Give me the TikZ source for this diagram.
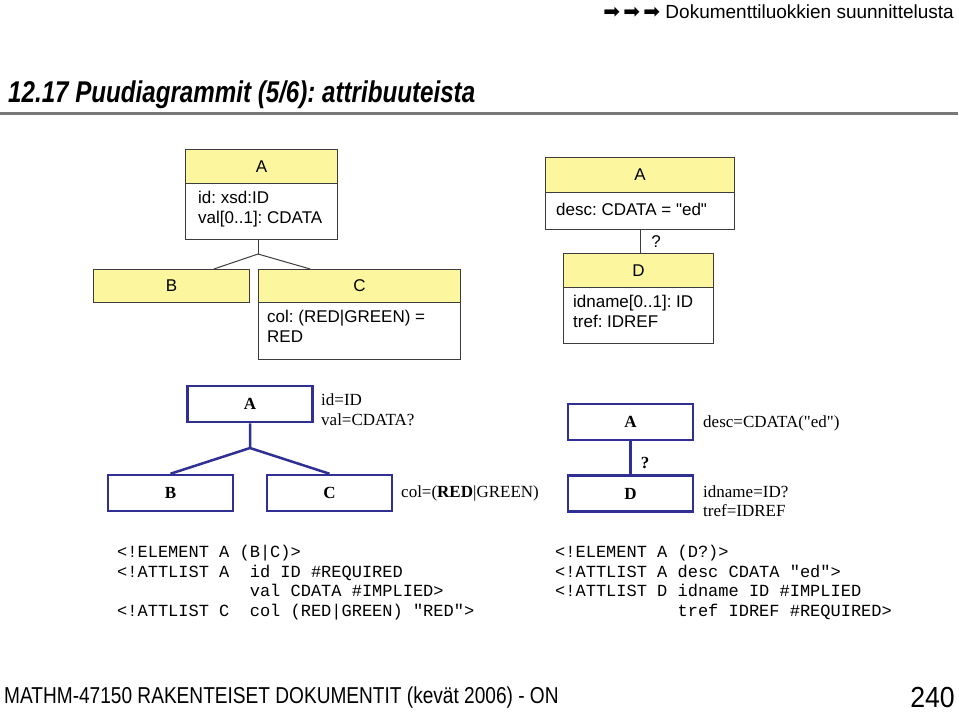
\documentclass[tikz,border=0pt]{standalone}
\usepackage{fontspec}
\usepackage{graphicx}
\setmainfont{Liberation Sans}
\newfontfamily\tnr{Liberation Serif}
\newfontfamily\cour{Liberation Mono}
\newfontfamily\djv{DejaVu Sans}
\usetikzlibrary{calc}
\definecolor{umly}{RGB}{252,247,158}
\definecolor{umll}{RGB}{60,60,60}
\definecolor{navy}{RGB}{48,48,148}
\definecolor{rulegray}{RGB}{120,120,120}
\frenchspacing
\begin{document}
\begin{tikzpicture}[x=1pt,y=-1pt,
  hd/.style={draw=umll,line width=1pt,fill=umly,anchor=north west,inner sep=0pt,font=\fontsize{17}{20}\selectfont},
  bd/.style={draw=umll,line width=1pt,fill=white,anchor=north west,inner sep=0pt},
  attxt/.style={anchor=base west,inner sep=0pt,font=\fontsize{17}{20}\selectfont},
  tb/.style={draw=navy,line width=2.5pt,fill=white,minimum width=125pt,minimum height=36pt,inner sep=0pt,font=\tnr\bfseries\fontsize{17}{20}\selectfont},
  tt/.style={anchor=base west,inner sep=0pt,font=\tnr\fontsize{17}{20}\selectfont},
  code/.style={anchor=base west,inner sep=0pt,font=\cour\fontsize{17}{20}\selectfont},
  ucon/.style={draw=umll,line width=1pt},
  tcon/.style={draw=navy,line width=2.5pt,line join=round}
]
\fill[white] (0,0) rectangle (959,713);
\path[use as bounding box] (0,0) rectangle (959,713);

% header
\node[anchor=base east,inner sep=0pt,font=\fontsize{19}{22}\selectfont] (hdr) at (954,18)
  {{\djv\fontsize{20}{22}\selectfont ➡\,➡\,➡}\ Dokumenttiluokkien suunnittelusta};

% title
\node[anchor=base west,inner sep=0pt,font=\fontsize{30}{34}\selectfont\bfseries\itshape] (title) at (8,102)
  {\scalebox{0.805}[1]{12.17 Puudiagrammit (5/6): attribuuteista}};
\coordinate (rl) at (0,113);
\coordinate (rr) at (958,113);
\draw[rulegray,line width=3pt] (rl) -- (rr);

% ---- top left UML tree
\node[hd,minimum width=152pt,minimum height=34pt] (Ah) at (185,149) {A};
\node[bd,minimum width=152pt,minimum height=56pt] (Ab) at (185,183) {};
\node[attxt] (Aa1) at (198,203) {id: xsd:ID};
\node[attxt] (Aa2) at (198,223) {val[0..1]: CDATA};

\node[hd,minimum width=156pt,minimum height=33pt] (Bh) at (93,269) {B};

\node[hd,minimum width=202pt,minimum height=33pt] (Ch) at (258,269) {C};
\node[bd,minimum width=202pt,minimum height=57pt] (Cb) at (258,302) {};
\node[attxt] (Ca1) at (267,322) {col: (RED|GREEN) =};
\node[attxt] (Ca2) at (267,342) {RED};

\coordinate (j1) at (258,254);
\draw[ucon] (Ab.south -| j1) -- (j1);
\draw[ucon] (j1) -- ($(Bh.north west)!0.77!(Bh.north east)$);
\draw[ucon] (j1) -- ($(Ch.north west)!0.257!(Ch.north east)$);

% ---- top right UML tree
\node[hd,minimum width=189pt,minimum height=35pt] (Rh) at (545,157) {A};
\node[bd,minimum width=189pt,minimum height=37pt] (Rb) at (545,192) {};
\node[attxt] (Ra1) at (556,215) {desc: CDATA = \textquotedbl ed\textquotedbl};

\node[hd,minimum width=150pt,minimum height=34pt] (Dh) at (563,253) {D};
\node[bd,minimum width=150pt,minimum height=56pt] (Db) at (563,287) {};
\node[attxt] (Da1) at (573,307) {idname[0..1]: ID};
\node[attxt] (Da2) at (573,327) {tref: IDREF};

\draw[ucon] (Rb.south) -- (Rb.south |- Dh.north);
\node[inner sep=0pt,font=\fontsize{17}{20}\selectfont] (q1) at (656,242) {?};

% ---- bottom left tree
\node[tb] (A2) at (250,404) {A};
\node[tb] (B2) at (170.5,493) {B};
\node[tb] (C2) at (329.5,493) {C};
\node[tt] (A2t1) at (321,405) {id=ID};
\node[tt] (A2t2) at (321,425) {val=CDATA?};
\node[tt] (C2t) at (401,497) {col=(\textbf{RED}|GREEN)};
\coordinate (j2) at (250,448);
\draw[tcon] (A2.south) -- (j2) -- (B2.north);
\draw[tcon] (j2) -- (C2.north);

% ---- bottom right tree
\node[tb] (A3) at (630.5,422) {A};
\node[tb] (D3) at (630.5,493.5) {D};
\node[tt] (A3t) at (703,427) {desc=CDATA("ed")};
\node[tt] (D3t1) at (703,497) {idname=ID?};
\node[tt] (D3t2) at (703,516) {tref=IDREF};
\draw[tcon] (A3.south) -- (D3.north);
\node[inner sep=0pt,font=\tnr\bfseries\fontsize{17}{20}\selectfont] (q2) at (645,463) {?};

% ---- code left
\node[code] (cl1) at (117,557) {<!ELEMENT A (B|C)>};
\node[code] (cl2) at (117,577) {<!ATTLIST A\ \ id ID \#REQUIRED};
\node[code] (cl3) at (249.6,596) {val CDATA \#IMPLIED>};
\node[code] (cl4) at (117,616) {<!ATTLIST C\ \ col (RED|GREEN) "RED">};

% ---- code right
\node[code] (cr1) at (555,557) {<!ELEMENT A (D?)>};
\node[code] (cr2) at (555,577) {<!ATTLIST A desc CDATA "ed">};
\node[code] (cr3) at (555,596) {<!ATTLIST D idname ID \#IMPLIED};
\node[code] (cr4) at (677.4,616) {tref IDREF \#REQUIRED>};

% ---- footer
\node[anchor=base west,inner sep=0pt,font=\fontsize{23}{26}\selectfont] (foot) at (4,703)
  {\scalebox{0.83}[1]{MATHM-47150 RAKENTEISET DOKUMENTIT (kevät 2006) - ON}};
\node[anchor=base east,inner sep=0pt,font=\fontsize{29}{32}\selectfont] (pg) at (955,707)
  {\scalebox{0.92}[1]{240}};
\end{tikzpicture}
\end{document}
